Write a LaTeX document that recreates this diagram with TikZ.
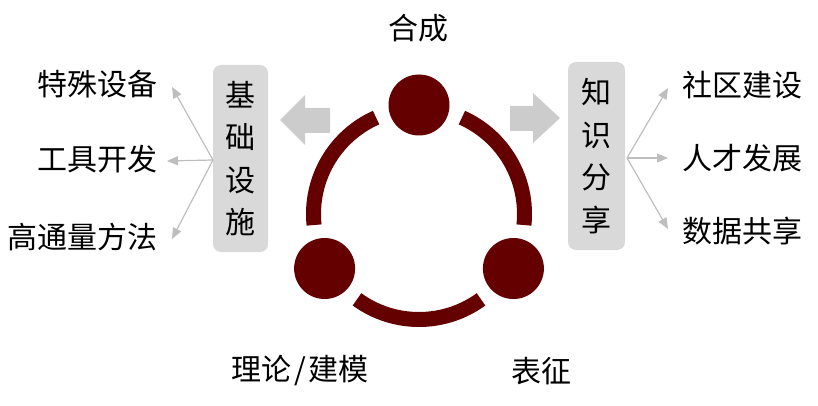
\documentclass[tikz,border=0pt]{standalone}
\usepackage{fontspec}
\setmainfont{Noto Sans CJK SC}
\usetikzlibrary{arrows.meta,calc}
\definecolor{ringred}{RGB}{100,0,0}
\definecolor{boxgray}{RGB}{217,217,217}
\definecolor{blockgray}{RGB}{204,204,204}
\definecolor{thingray}{RGB}{190,190,190}
\tikzset{
  lbl/.style={inner sep=0pt, font=\fontsize{30}{34}\selectfont, text=black},
  sidebox/.style={fill=boxgray, rounded corners=8pt, inner sep=0pt, align=center,
    font=\fontsize{30}{42.5}\selectfont, text=black},
  ringarc/.style={draw=ringred, line width=15pt, line cap=butt},
  hub/.style={circle, fill=ringred, minimum size=61pt, inner sep=0pt},
  thinarrow/.style={draw=thingray, line width=1.2pt, -{Triangle[length=11pt,width=9pt]}},
  blockarrow/.style={fill=blockgray}
}
\begin{document}
\begin{tikzpicture}[x=1pt,y=1pt]
\useasboundingbox (0,0) rectangle (818,-406);
\coordinate (c) at (419,-214);
% ring arcs
\draw[ringarc] (c) ++(114:105.5) arc[start angle=114,end angle=186,radius=105.5];
\draw[ringarc] (c) ++(234:105.5) arc[start angle=234,end angle=306,radius=105.5];
\draw[ringarc] (c) ++(-6:105.5) arc[start angle=-6,end angle=66,radius=105.5];
% hub circles
\node[hub] (top) at ($(c)+(90:109)$) {};
\node[hub] (bl) at ($(c)+(210:109)$) {};
\node[hub] (br) at ($(c)+(330:109)$) {};
% block arrows
\fill[blockarrow] (280,-120) -- (305,-95) -- (305,-108) -- (330,-108) -- (330,-133) -- (305,-133) -- (305,-145) -- cycle;
\fill[blockarrow] (560,-118) -- (533,-93) -- (533,-106) -- (510,-106) -- (510,-131) -- (533,-131) -- (533,-143) -- cycle;
% side boxes
\node[sidebox, minimum width=55pt, minimum height=187pt] (infra) at (240.5,-158.5) {基\\础\\设\\施};
\node[sidebox, minimum width=57pt, minimum height=188pt] (share) at (596.5,-156) {知\\识\\分\\享};
% labels
\node[lbl] (synth) at (418,-28) {合成};
\node[lbl] (theory) at (300,-371) {理论\hspace{3pt}/\hspace{3pt}建模};
\node[lbl] (charac) at (541,-371) {表征};
\node[lbl, anchor=east] (equip) at (158,-84) {特殊设备};
\node[lbl, anchor=east] (tools) at (158,-159) {工具开发};
\node[lbl, anchor=east] (htp) at (158,-237) {高通量方法};
\node[lbl, anchor=west] (comm) at (682,-85) {社区建设};
\node[lbl, anchor=west] (talent) at (682,-158) {人才发展};
\node[lbl, anchor=west] (data) at (682,-231) {数据共享};
% thin arrows
\coordinate (lsrc) at (213,-160);
\coordinate (rsrc) at (627,-158);
\coordinate (l1) at (172,-87);
\coordinate (l2) at (167,-161);
\coordinate (l3) at (172,-239);
\coordinate (r1) at (668,-88);
\coordinate (r2) at (668,-158);
\coordinate (r3) at (668,-229);
\draw[thinarrow] (lsrc) -- (l1);
\draw[thinarrow] (lsrc) -- (l2);
\draw[thinarrow] (lsrc) -- (l3);
\draw[thinarrow] (rsrc) -- (r1);
\draw[thinarrow] (rsrc) -- (r2);
\draw[thinarrow] (rsrc) -- (r3);
\end{tikzpicture}
\end{document}
